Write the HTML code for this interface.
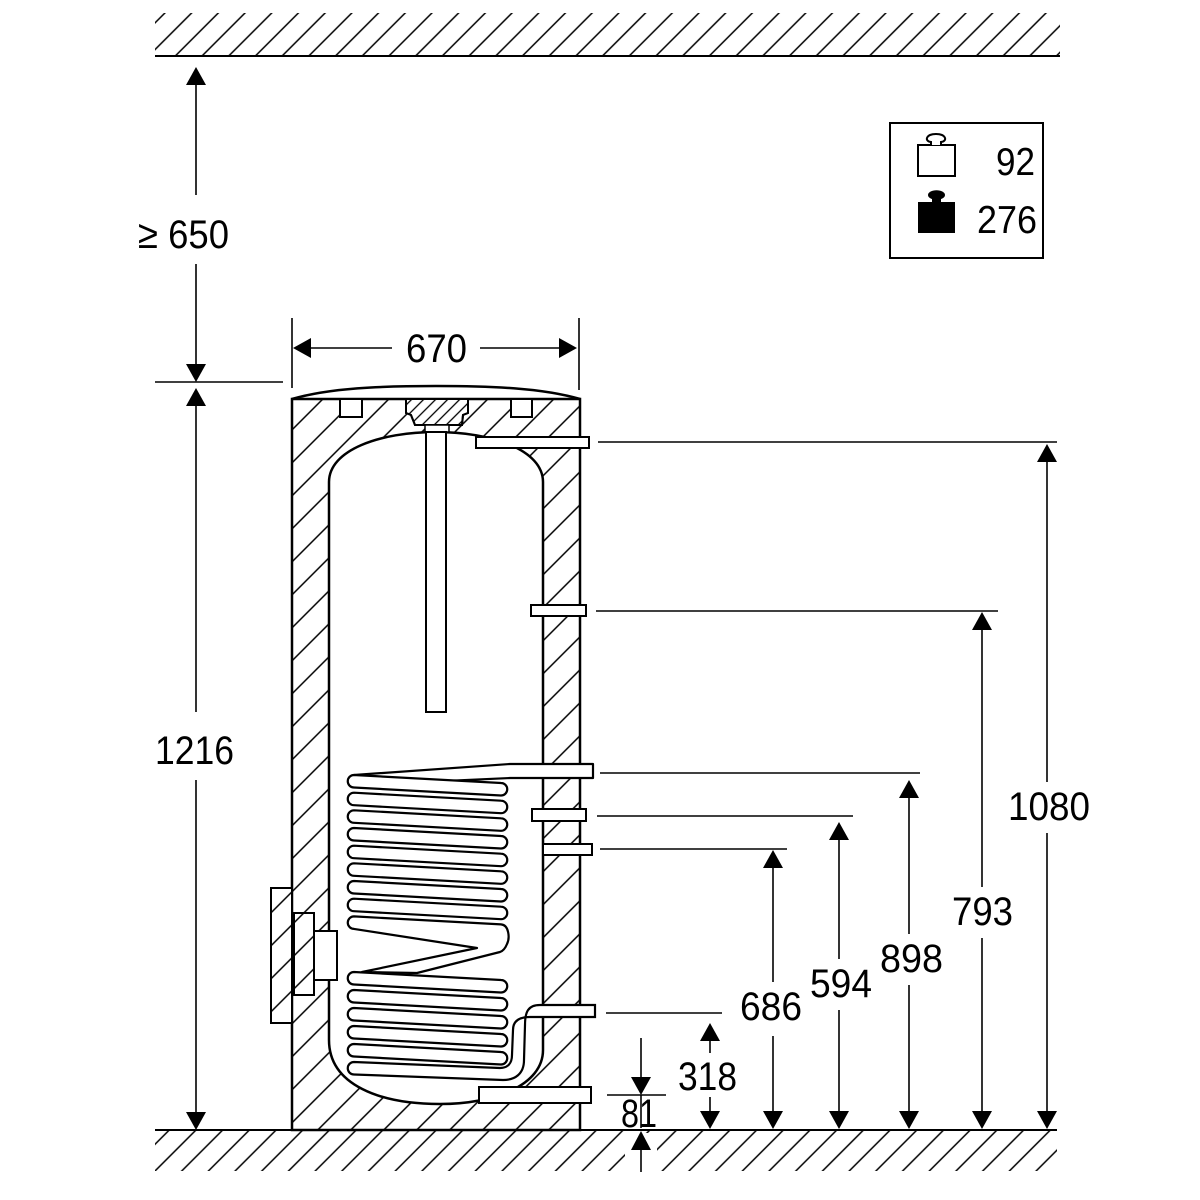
<!DOCTYPE html>
<html><head><meta charset="utf-8">
<style>
html,body{margin:0;padding:0;background:#fff;}
svg{display:block;}
text{font-family:"Liberation Sans",Arial,sans-serif;fill:#000;}
</style></head><body>
<svg width="1200" height="1200" viewBox="0 0 1200 1200" xmlns="http://www.w3.org/2000/svg">
<defs>
<pattern id="hf" patternUnits="userSpaceOnUse" width="18.88" height="20" patternTransform="rotate(45)">
<line x1="12.5" y1="-2" x2="12.5" y2="22" stroke="#000" stroke-width="1.5"/>
</pattern>
<pattern id="ht" patternUnits="userSpaceOnUse" width="23.33" height="20" patternTransform="rotate(45)">
<line x1="20.5" y1="-2" x2="20.5" y2="22" stroke="#000" stroke-width="1.5"/>
</pattern>
<pattern id="hp" patternUnits="userSpaceOnUse" width="8.5" height="20" patternTransform="rotate(45)">
<line x1="4" y1="-2" x2="4" y2="22" stroke="#000" stroke-width="1.3"/>
</pattern>
</defs>

<!-- ceiling -->
<rect x="155" y="13" width="905" height="43" fill="url(#hf)"/>
<line x1="155" y1="56" x2="1060" y2="56" stroke="#000" stroke-width="2"/>

<!-- floor -->
<rect x="155" y="1130" width="902" height="41" fill="url(#hf)"/>
<rect x="625" y="1133" width="32" height="40" fill="#fff"/>
<line x1="155" y1="1130" x2="1057" y2="1130" stroke="#000" stroke-width="2"/>

<!-- tank cap -->
<path d="M292,399 C330,388 380,386 436,386 C492,386 542,388 580,399" fill="none" stroke="#000" stroke-width="2.5"/>
<!-- tank body -->
<rect x="292" y="399" width="288" height="731" fill="url(#ht)" stroke="#000" stroke-width="2.5"/>

<!-- top small rects -->
<rect x="340" y="399" width="22" height="18" fill="#fff" stroke="#000" stroke-width="2"/>
<rect x="511" y="399" width="21" height="18" fill="#fff" stroke="#000" stroke-width="2"/>
<!-- plug -->
<polygon points="406,399 406,413 411,415 415,425 462,425 463,415 468,413 468,399" fill="#fff" stroke="#000" stroke-width="2"/>
<polygon points="406,399 406,413 411,415 415,425 462,425 463,415 468,413 468,399" fill="url(#hp)" stroke="#000" stroke-width="2"/>

<!-- inner cavity -->
<path d="M329,482 C329,450 380,432 436,432 C492,432 543,450 543,482 L543,1050 C543,1085 495,1104 440,1104 C380,1104 329,1085 329,1040 Z" fill="#fff" stroke="#000" stroke-width="2.5"/>

<!-- anode -->
<rect x="425" y="425" width="24" height="7" fill="#fff" stroke="#000" stroke-width="1.5"/>
<rect x="426" y="432" width="20" height="280" fill="#fff" stroke="#000" stroke-width="2"/>

<!-- left flange -->
<rect x="271" y="888" width="21" height="135" fill="#fff" stroke="#000" stroke-width="2"/>
<rect x="271" y="888" width="21" height="135" fill="url(#ht)" stroke="#000" stroke-width="2"/>
<rect x="294" y="913" width="20" height="82" fill="none" stroke="#000" stroke-width="2"/>
<rect x="314" y="931" width="23" height="49" fill="#fff" stroke="#000" stroke-width="2"/>

<!-- ports -->
<rect x="476" y="437" width="113" height="11" fill="#fff" stroke="#000" stroke-width="2"/>
<rect x="531" y="605" width="55" height="11" fill="#fff" stroke="#000" stroke-width="2"/>
<rect x="532" y="809" width="54" height="12" fill="#fff" stroke="#000" stroke-width="2"/>
<rect x="543" y="844" width="49" height="11" fill="#fff" stroke="#000" stroke-width="2"/>
<rect x="479" y="1087" width="112" height="16" fill="#fff" stroke="#000" stroke-width="2"/>

<!-- coil feed from top port -->
<polygon points="354,775 510,764 593,764 593,778 510,778 445,781" fill="#fff" stroke="#000" stroke-width="2.2" stroke-linejoin="round"/>

<!-- upper coil loops -->
<g fill="#fff" stroke="#000" stroke-width="2.2">
<path d="M354,775 L501,783 A6.25,6.25 0 0 1 501,795.5 L354,787.5 A6.25,6.25 0 0 1 354,775 Z"/>
<path d="M354,792.7 L501,800.7 A6.25,6.25 0 0 1 501,813.2 L354,805.2 A6.25,6.25 0 0 1 354,792.7 Z"/>
<path d="M354,810.3 L501,818.3 A6.25,6.25 0 0 1 501,830.8 L354,822.8 A6.25,6.25 0 0 1 354,810.3 Z"/>
<path d="M354,828 L501,836 A6.25,6.25 0 0 1 501,848.5 L354,840.5 A6.25,6.25 0 0 1 354,828 Z"/>
<path d="M354,845.7 L501,853.7 A6.25,6.25 0 0 1 501,866.2 L354,858.2 A6.25,6.25 0 0 1 354,845.7 Z"/>
<path d="M354,863.3 L501,871.3 A6.25,6.25 0 0 1 501,883.8 L354,875.8 A6.25,6.25 0 0 1 354,863.3 Z"/>
<path d="M354,881 L501,889 A6.25,6.25 0 0 1 501,901.5 L354,893.5 A6.25,6.25 0 0 1 354,881 Z"/>
<path d="M354,898.7 L501,906.7 A6.25,6.25 0 0 1 501,919.2 L354,911.2 A6.25,6.25 0 0 1 354,898.7 Z"/>
<!-- transition loop -->
<path d="M354,916.4 L501,924.4 C509,925 510,938 507,944 C505,949 503,951 500,952 L417,973 L362,972 L477,948 L354,928.9 A6.25,6.25 0 0 1 354,916.4 Z" stroke-linejoin="round"/>
<!-- lower coil loops -->
<path d="M354,972 L501,980 A6.25,6.25 0 0 1 501,992.5 L354,984.5 A6.25,6.25 0 0 1 354,972 Z"/>
<path d="M354,990 L501,998 A6.25,6.25 0 0 1 501,1010.5 L354,1002.5 A6.25,6.25 0 0 1 354,990 Z"/>
<path d="M354,1008 L501,1016 A6.25,6.25 0 0 1 501,1028.5 L354,1020.5 A6.25,6.25 0 0 1 354,1008 Z"/>
<path d="M354,1026 L501,1034 A6.25,6.25 0 0 1 501,1046.5 L354,1038.5 A6.25,6.25 0 0 1 354,1026 Z"/>
<path d="M354,1044 L501,1052 A6.25,6.25 0 0 1 501,1064.5 L354,1056.5 A6.25,6.25 0 0 1 354,1044 Z"/>
<path d="M354,1062 L500,1068 C508,1068 512,1063 512,1055 L513,1030 C513,1021 519,1017 530,1017 L595,1017 L595,1005 L540,1005 C528,1005 525,1012 525,1025 L524,1060 C524,1074 515,1080 503,1080 L354,1074.5 A6.25,6.25 0 0 1 354,1062 Z"/>
</g>

<!-- dimension lines -->
<g stroke="#000" stroke-width="1.6" fill="none">
<!-- left -->
<line x1="196" y1="85" x2="196" y2="195"/>
<line x1="196" y1="264" x2="196" y2="365"/>
<line x1="155" y1="382" x2="283" y2="382"/>
<line x1="196" y1="406" x2="196" y2="712"/>
<line x1="196" y1="780" x2="196" y2="1113"/>
<!-- 670 -->
<line x1="292" y1="318" x2="292" y2="388"/>
<line x1="579" y1="318" x2="579" y2="390"/>
<line x1="311" y1="348" x2="392" y2="348"/>
<line x1="480" y1="348" x2="559" y2="348"/>
<!-- extension lines -->
<line x1="598" y1="442" x2="1057" y2="442"/>
<line x1="596" y1="611" x2="998" y2="611"/>
<line x1="600" y1="773" x2="920" y2="773"/>
<line x1="597" y1="816" x2="853" y2="816"/>
<line x1="600" y1="849" x2="787" y2="849"/>
<line x1="606" y1="1013" x2="722" y2="1013"/>
<line x1="607" y1="1095" x2="666" y2="1095"/>
<!-- verticals -->
<line x1="1047" y1="462" x2="1047" y2="782"/>
<line x1="1047" y1="833" x2="1047" y2="1112"/>
<line x1="982" y1="630" x2="982" y2="887"/>
<line x1="982" y1="938" x2="982" y2="1112"/>
<line x1="909" y1="798" x2="909" y2="934"/>
<line x1="909" y1="985" x2="909" y2="1112"/>
<line x1="839" y1="840" x2="839" y2="959"/>
<line x1="839" y1="1010" x2="839" y2="1112"/>
<line x1="773" y1="868" x2="773" y2="982"/>
<line x1="773" y1="1036" x2="773" y2="1112"/>
<line x1="710" y1="1041" x2="710" y2="1053"/>
<line x1="710" y1="1097" x2="710" y2="1112"/>
<line x1="641" y1="1038" x2="641" y2="1077"/>
<line x1="641" y1="1095" x2="641" y2="1128"/>
<line x1="641" y1="1150" x2="641" y2="1172"/>
</g>

<!-- arrowheads -->
<g fill="#000">
<polygon points="196,67 186,85 206,85"/>
<polygon points="196,382 186,364 206,364"/>
<polygon points="196,388 186,406 206,406"/>
<polygon points="196,1130 186,1112 206,1112"/>
<polygon points="293,348 311,338 311,358"/>
<polygon points="577,348 559,338 559,358"/>
<polygon points="1047,444 1037,462 1057,462"/>
<polygon points="1047,1129 1037,1111 1057,1111"/>
<polygon points="982,612 972,630 992,630"/>
<polygon points="982,1129 972,1111 992,1111"/>
<polygon points="909,780 899,798 919,798"/>
<polygon points="909,1129 899,1111 919,1111"/>
<polygon points="839,822 829,840 849,840"/>
<polygon points="839,1129 829,1111 849,1111"/>
<polygon points="773,850 763,868 783,868"/>
<polygon points="773,1129 763,1111 783,1111"/>
<polygon points="710,1023 700,1041 720,1041"/>
<polygon points="710,1129 700,1111 720,1111"/>
<polygon points="641,1095 631,1077 651,1077"/>
<polygon points="641,1131 631,1150 651,1150"/>
</g>

<!-- texts -->
<g font-size="40">
<text x="138" y="248" textLength="91" lengthAdjust="spacingAndGlyphs">≥ 650</text>
<text x="406" y="362" textLength="61" lengthAdjust="spacingAndGlyphs">670</text>
<text x="155" y="764" textLength="79" lengthAdjust="spacingAndGlyphs">1216</text>
<text x="1008" y="820" textLength="82" lengthAdjust="spacingAndGlyphs">1080</text>
<text x="952" y="925" textLength="61" lengthAdjust="spacingAndGlyphs">793</text>
<text x="880" y="972" textLength="63" lengthAdjust="spacingAndGlyphs">898</text>
<text x="810" y="997" textLength="62" lengthAdjust="spacingAndGlyphs">594</text>
<text x="740" y="1020" textLength="62" lengthAdjust="spacingAndGlyphs">686</text>
<text x="678" y="1090" textLength="59" lengthAdjust="spacingAndGlyphs">318</text>
<text x="621" y="1127" textLength="36" lengthAdjust="spacingAndGlyphs">81</text>
</g>

<!-- weight box -->
<rect x="890" y="123" width="153" height="135" fill="none" stroke="#000" stroke-width="2"/>
<rect x="918" y="145" width="37" height="31" fill="none" stroke="#000" stroke-width="2"/>
<path d="M931,145 L931,142 C924,141 926,134 936,134 C946,134 948,141 941,142 L941,145" fill="#fff" stroke="#000" stroke-width="2"/>
<rect x="918" y="202" width="37" height="31" fill="#000"/>
<ellipse cx="936.5" cy="195" rx="8.5" ry="4.8" fill="#000"/>
<rect x="932" y="197" width="9" height="6" fill="#000"/>
<g font-size="39">
<text x="996" y="175" textLength="39" lengthAdjust="spacingAndGlyphs">92</text>
<text x="977" y="233" textLength="60" lengthAdjust="spacingAndGlyphs">276</text>
</g>
</svg>
</body></html>
